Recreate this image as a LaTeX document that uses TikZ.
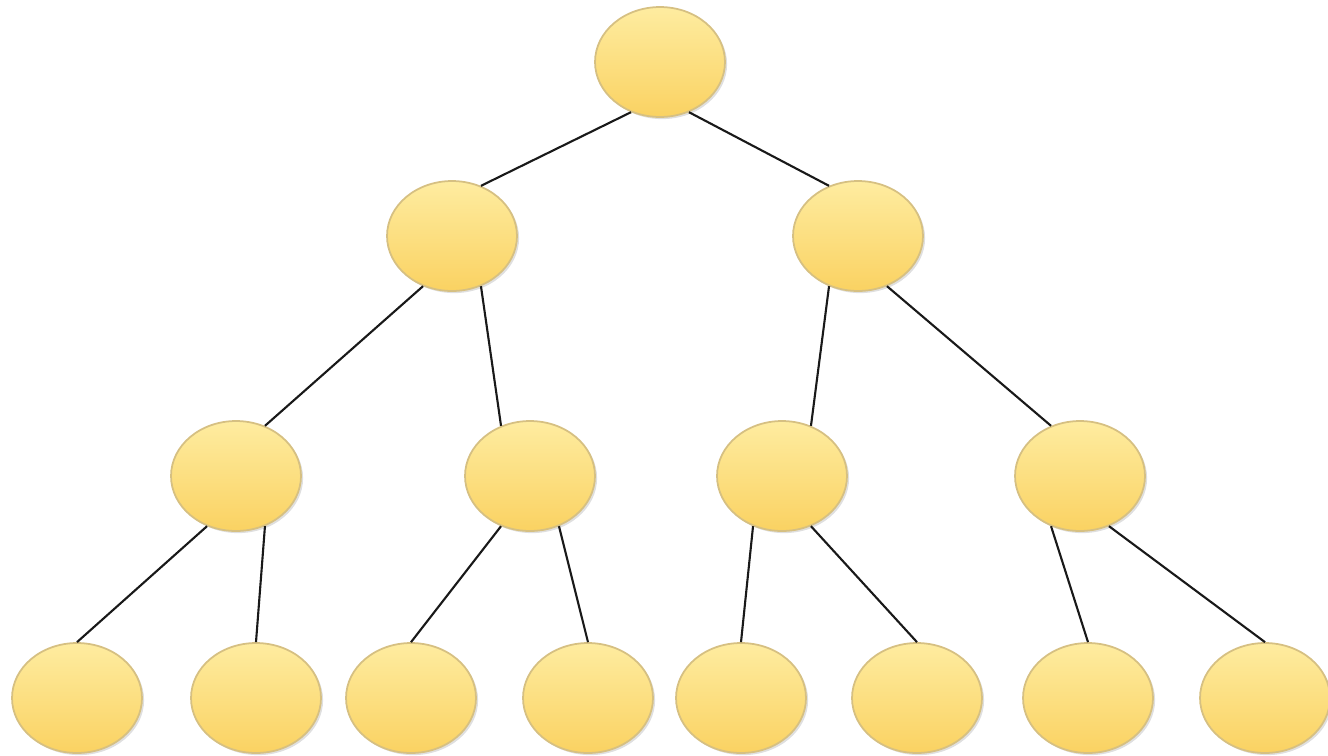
\documentclass[tikz,border=0pt]{standalone}
\usepackage{tikz}
\usetikzlibrary{shapes.geometric,shadows}
\definecolor{nodetop}{RGB}{254,236,160}
\definecolor{nodebot}{RGB}{250,210,98}
\definecolor{nodeline}{RGB}{214,192,130}

\begin{document}
\begin{tikzpicture}[x=0.02cm,y=-0.02cm,
  treenode/.style={ellipse, minimum width=2.6cm, minimum height=2.2cm, inner sep=0pt,
    top color=nodetop, bottom color=nodebot, draw=nodeline, line width=1pt,
    drop shadow={shadow xshift=1.2pt, shadow yshift=-1.2pt, opacity=0.25}},
  edge/.style={line width=1.2pt, black!90}]
\useasboundingbox (0,0) rectangle (1328,755);
% root
\node[treenode] (r) at (660,62) {};
% level 1
\node[treenode] (a) at (452,236) {};
\node[treenode] (b) at (858,236) {};
% level 2
\foreach \n/\x in {a1/236,a2/530,b1/782,b2/1080} {
  \node[treenode] (\n) at (\x,476) {};
}
% leaves
\foreach \n/\x in {a11/77,a12/256,a21/411,a22/588,b11/741,b12/917,b21/1088,b22/1265} {
  \node[treenode] (\n) at (\x,698) {};
}
% edges: parent bottom -> child top
\foreach \p/\c/\s/\e in {r/a/240/60,r/b/300/120,a/a1/240/60,a/a2/300/120,b/b1/240/60,b/b2/300/120} {
  \draw[edge] (\p.\s) -- (\c.\e);
}
\foreach \p/\c/\s in {a1/a11/240,a1/a12/300,a2/a21/240,a2/a22/300,b1/b11/240,b1/b12/300,b2/b21/240,b2/b22/300} {
  \draw[edge] (\p.\s) -- (\c.north);
}
\end{tikzpicture}
\end{document}
